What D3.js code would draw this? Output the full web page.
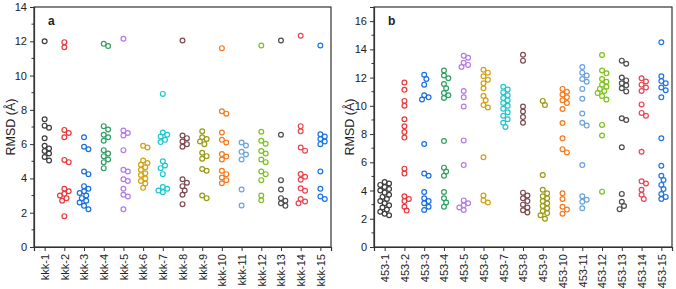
<!DOCTYPE html>
<html>
<head>
<meta charset="utf-8">
<script src="https://cdn.jsdelivr.net/npm/d3@7"></script>
<style>
  body { margin: 0; background: #fff; }
  text { font-family: "Liberation Sans", Arial, sans-serif; fill: #222; }
</style>
</head>
<body>
<div id="wrapper"></div>
<script>
// ---------- data ----------
const kkkCategories = d3.range(1, 16).map(i => `kkk-${i}`)
const ligCategories = d3.range(1, 16).map(i => `453-${i}`)

const seriesColors = [
  "#3d3d3d", "#e8383d", "#1a6fdf", "#2ea162", "#b57be6",
  "#d4a10f", "#1ec8cf", "#7b4b52", "#9a9a16", "#f47a1c",
  "#6ca3dc", "#7cc21d", "#4d4d4d", "#e84651", "#1f74e6",
]

const kkkValues = [
  [12.0, 7.45, 7.08, 6.96, 6.34, 5.9, 5.75, 5.6, 5.45, 5.25, 5.05],
  [11.95, 11.65, 6.83, 6.65, 6.4, 5.08, 4.95, 3.4, 3.25, 3.1, 3.0, 2.85, 2.7, 1.8],
  [6.4, 5.85, 5.7, 4.4, 4.25, 3.55, 3.4, 3.25, 3.15, 3.0, 2.85, 2.7, 2.6, 2.4, 2.2],
  [11.85, 11.72, 7.05, 6.85, 6.55, 6.4, 6.2, 5.65, 5.45, 5.3, 5.1, 4.95, 4.6],
  [12.15, 6.8, 6.65, 6.5, 5.65, 4.5, 4.4, 3.95, 3.85, 3.4, 3.05, 2.95, 2.2],
  [5.9, 5.8, 5.05, 4.9, 4.8, 4.65, 4.5, 4.3, 4.2, 4.0, 3.85, 3.7, 3.45],
  [8.93, 6.68, 6.55, 6.45, 6.25, 6.12, 5.0, 4.75, 4.6, 4.25, 3.5, 3.4, 3.3, 3.2],
  [12.05, 6.5, 6.35, 6.15, 6.0, 5.85, 3.95, 3.75, 3.55, 3.3, 3.05, 2.5],
  [6.75, 6.4, 6.3, 6.15, 6.0, 5.5, 5.3, 5.15, 4.55, 4.45, 3.0, 2.85],
  [11.6, 7.92, 7.78, 6.68, 6.25, 6.1, 5.42, 5.28, 5.1, 4.45, 4.25, 4.05, 3.9, 3.72],
  [6.1, 5.92, 5.55, 5.4, 5.1, 3.35, 2.42],
  [11.75, 6.72, 6.2, 6.02, 5.6, 5.45, 5.1, 4.95, 4.4, 4.25, 3.9, 3.0, 2.72],
  [12.05, 6.55, 3.9, 3.35, 2.85, 2.7, 2.55, 2.4],
  [12.32, 7.05, 6.75, 5.8, 5.62, 4.26, 4.1, 3.92, 3.42, 3.28, 2.8, 2.65, 2.55],
  [11.75, 6.58, 6.45, 6.3, 6.15, 6.0, 4.4, 3.4, 2.95, 2.8],
]

const ligValues = [
  [4.6, 4.5, 4.4, 4.25, 4.1, 4.0, 3.85, 3.7, 3.55, 3.4, 3.25, 3.1, 2.95, 2.8, 2.65, 2.5, 2.35, 2.25],
  [11.65, 11.13, 10.35, 10.0, 9.05, 8.55, 8.15, 7.75, 5.55, 5.2, 3.6, 3.4, 3.25, 2.85, 2.58],
  [12.2, 11.9, 11.5, 10.75, 10.6, 10.45, 7.3, 5.2, 5.05, 3.9, 3.45, 3.25, 3.1, 2.85, 2.62],
  [12.5, 12.15, 11.95, 11.55, 11.25, 10.9, 10.75, 10.55, 7.5, 5.62, 5.35, 5.05, 3.9, 3.45, 3.15, 2.85],
  [13.55, 13.4, 13.05, 12.9, 12.75, 11.05, 10.6, 9.95, 7.55, 5.8, 3.3, 3.1, 2.95, 2.8, 2.62],
  [12.55, 12.35, 12.1, 11.85, 11.6, 11.25, 10.7, 10.4, 10.05, 9.88, 6.35, 3.65, 3.3, 3.15],
  [11.35, 11.15, 10.95, 10.75, 10.55, 10.4, 10.2, 10.0, 9.8, 9.55, 9.3, 9.05, 8.8, 8.5],
  [13.62, 13.2, 9.95, 9.6, 9.2, 8.8, 3.85, 3.65, 3.45, 3.25, 3.0, 2.8, 2.6, 2.45],
  [10.35, 10.05, 5.1, 4.05, 3.8, 3.6, 3.45, 3.25, 3.1, 2.9, 2.75, 2.55, 2.4, 2.25, 2.0],
  [11.2, 11.0, 10.8, 10.6, 10.4, 10.2, 9.78, 8.78, 7.7, 6.93, 6.7, 3.8, 3.4, 2.85, 2.65, 2.35],
  [12.75, 12.35, 12.15, 11.9, 11.7, 11.2, 10.5, 9.45, 8.8, 8.6, 5.8, 3.6, 3.35, 3.2, 2.75],
  [13.6, 12.5, 12.3, 11.9, 11.7, 11.5, 11.35, 11.2, 11.05, 10.9, 10.7, 10.45, 8.65, 7.9, 3.92],
  [13.2, 12.98, 12.0, 11.8, 11.6, 11.45, 11.25, 11.02, 9.12, 9.0, 7.07, 3.76, 3.2, 2.9, 2.68],
  [11.95, 11.72, 11.5, 11.3, 11.05, 10.1, 9.5, 9.3, 6.75, 4.65, 4.5, 4.05, 3.7, 3.4],
  [14.5, 12.1, 11.75, 11.6, 11.3, 11.1, 10.6, 7.7, 5.75, 5.05, 4.75, 4.4, 4.1, 3.75, 3.55, 3.4],
]

const kkkTicks = d3.range(0, 15, 2)
const ligTicks = d3.range(0, 17, 2)

// ---------- canvas ----------
const svg = d3.select("#wrapper").append("svg")
  .attr("width", 676)
  .attr("height", 289)

function drawPanel({ left, right, top, bottom, yMax, ticks, categories, values, letter, titleX }) {
  const xScale = d3.scalePoint()
    .domain(categories)
    .range([left, right])
    .padding(0.54)

  const yScale = d3.scaleLinear()
    .domain([0, yMax])
    .range([bottom, top])

  const g = svg.append("g")

  // frame
  g.append("rect")
    .attr("x", left).attr("y", top)
    .attr("width", right - left).attr("height", bottom - top)
    .attr("fill", "none").attr("stroke", "#333").attr("stroke-width", 1.2)

  // minor y ticks
  const minor = d3.range(1, yMax, 2)
  g.append("g").selectAll("line").data(minor).join("line")
    .attr("x1", left - 2.5).attr("x2", left)
    .attr("y1", d => yScale(d)).attr("y2", d => yScale(d))
    .attr("stroke", "#333").attr("stroke-width", 1)

  const yAxis = g.append("g")
    .attr("transform", `translate(${left},0)`)
    .call(d3.axisLeft(yScale).tickValues(ticks).tickSize(4).tickPadding(3))
  yAxis.select(".domain").attr("stroke", "#333").attr("stroke-width", 1.2)
  yAxis.selectAll(".tick line").attr("stroke", "#333")
  yAxis.selectAll("text").attr("font-size", 11).attr("fill", "#222")
    .style("font-family", "'Liberation Sans', Arial, sans-serif")

  const xAxis = g.append("g")
    .attr("transform", `translate(0,${bottom})`)
    .call(d3.axisBottom(xScale).tickSize(4).tickPadding(3))
  xAxis.select(".domain").attr("stroke", "#333").attr("stroke-width", 1.2)
  xAxis.selectAll(".tick line").attr("stroke", "#333")
  xAxis.selectAll("text")
    .attr("font-size", 11).attr("fill", "#222")
    .style("font-family", "'Liberation Sans', Arial, sans-serif")
    .attr("text-anchor", "end")
    .attr("transform", "rotate(-90)")
    .attr("x", -7).attr("y", 0).attr("dy", "0.35em")

  // y title
  g.append("text")
    .attr("transform", `translate(${titleX},${(top + bottom) / 2}) rotate(-90)`)
    .attr("text-anchor", "middle")
    .attr("font-size", 12.5)
    .text("RMSD (Å)")

  // panel letter
  g.append("text")
    .attr("x", left + 14).attr("y", top + 18)
    .attr("font-size", 12).attr("font-weight", "bold")
    .text(letter)

  // points, simple beeswarm so overlapping circles spread sideways
  const r = 2.4
  const minDist = 4.3
  const points = []
  values.forEach((vals, ci) => {
    const cx = xScale(categories[ci])
    const placed = []
    vals.slice().sort((a, b) => b - a).forEach(v => {
      const cy = yScale(v)
      let dx = 0
      for (let k = 0; k < 12; k++) {
        const cand = k === 0 ? 0 : (k % 2 ? 1 : -1) * Math.ceil(k / 2) * 2.2
        const hit = placed.some(p => Math.hypot(p.dx - cand, p.cy - cy) < minDist)
        if (!hit) { dx = cand; break }
      }
      placed.push({ dx, cy })
      points.push({ x: cx + dx, y: cy, color: seriesColors[ci] })
    })
  })

  g.append("g").selectAll("circle").data(points).join("circle")
    .attr("cx", d => d.x)
    .attr("cy", d => d.y)
    .attr("r", r)
    .attr("fill", "none")
    .attr("stroke", d => d.color)
    .attr("stroke-width", 1.2)
}

drawPanel({
  left: 34, right: 331, top: 7, bottom: 247, yMax: 14, ticks: kkkTicks,
  categories: kkkCategories, values: kkkValues, letter: "a", titleX: 15,
})

drawPanel({
  left: 374, right: 672, top: 7, bottom: 247, yMax: 17, ticks: ligTicks,
  categories: ligCategories, values: ligValues, letter: "b", titleX: 354,
})
</script>
</body>
</html>
